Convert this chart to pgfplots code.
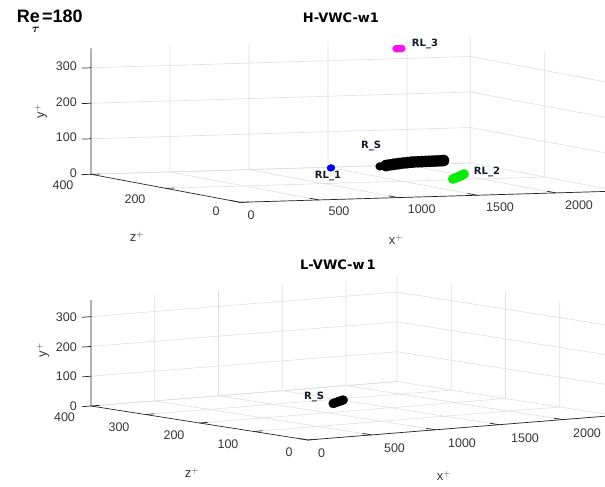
\documentclass[border=0pt]{standalone}
\usepackage{pgfplots}
\pgfplotsset{compat=1.18}
\usepackage{fontspec}
\setmainfont{Liberation Sans}
\newfontfamily\lblfont{DejaVu Sans}

\definecolor{gridc}{RGB}{222,222,222}
\definecolor{axc}{RGB}{38,38,38}
\definecolor{tickc}{RGB}{55,55,55}
\definecolor{labc}{RGB}{20,25,40}
\definecolor{rlblue}{RGB}{0,0,245}
\definecolor{rlgreen}{RGB}{10,235,10}
\definecolor{rlmag}{RGB}{245,20,240}

\pgfplotsset{
  vwc/.style={hide axis, clip=false, anchor=origin,
    xmin=0, xmax=2400, ymin=0, ymax=400, zmin=0, zmax=355},
  blob/.style={only marks, mark=*, color=#1,
    mark options={solid, fill=#1, draw=#1, line width=0.1pt}},
}
\tikzset{
  gl/.style={gridc, line width=0.6pt},
  al/.style={axc, line width=0.7pt},
  tl/.style={tickc, font=\fontsize{12.5}{13}\selectfont, inner sep=0pt},
  ll/.style={tickc, font=\fontsize{13}{14}\selectfont, inner sep=0pt},
  rl/.style={labc, font=\lblfont\bfseries\fontsize{10}{11}\selectfont, inner sep=0pt},
}

\begin{document}
\begin{tikzpicture}

% upper panel: H-VWC-w1
\begin{axis}[vwc, at={(240pt,284.7pt)},
  x={(0.158pt,0.0047pt)}, y={(-0.3725pt,0.07pt)}, z={(0pt,0.355pt)}]
\pgfplotsinvokeforeach{500,1000,1500,2000}{
  \draw[gl] (axis cs:#1,0,0) -- (axis cs:#1,400,0) -- (axis cs:#1,400,355);}
\pgfplotsinvokeforeach{0,200,400}{
  \draw[gl] (axis cs:0,#1,0) -- (axis cs:2400,#1,0) -- (axis cs:2400,#1,355);}
\pgfplotsinvokeforeach{0,100,200,300}{
  \draw[gl] (axis cs:0,400,#1) -- (axis cs:2400,400,#1) -- (axis cs:2400,0,#1);}
\draw[al] (axis cs:0,400,355) -- (axis cs:0,400,0) -- (axis cs:0,0,0) -- (axis cs:2400,0,0);
\pgfplotsinvokeforeach{0,100,200,300}{
  \draw[al] (axis cs:0,400,#1) -- (axis cs:-57,400,#1);}
\pgfplotsinvokeforeach{0,200,400}{
  \draw[al] (axis cs:0,#1,0) -- (axis cs:55,#1,0);}
\pgfplotsinvokeforeach{0,500,1000,1500,2000}{
  \draw[al] (axis cs:#1,0,0) -- (axis cs:#1,25,0);}

% R_S
\addplot3[blob=black, mark size=4pt] coordinates {
  (1600,304,20) (1630,308,20)};
\addplot3[blob=black, mark size=5.7pt] coordinates {
  (1660,312,20) (1695,318,20) (1729,323,20) (1760,328,20) (1790,332,20)
  (1827,337,20) (1860,340,20) (1890,343,20) (1916,346,20) (1945,347,20)
  (1970,347.5,20) (1996,348,20) (2020,348.5,20) (2045,349,20) (2071,350,20)
  (2098,351.5,20) (2120,353,20)};
% RL_1
\addplot3[blob=rlblue, mark size=3.3pt] coordinates {
  (1283,302,20) (1290,303,20) (1297,304,20)};
% RL_2
\addplot3[blob=rlgreen, mark size=4.8pt] coordinates {
  (1635,122,20) (1662,129,20) (1688,136,20) (1714,143,20) (1740,150,20)
  (1765,157,20) (1790,164,20) (1815,172,20) (1840,179,20)};
% RL_3
\addplot3[blob=rlmag, mark size=3.6pt] coordinates {
  (1860,370,335) (1869,370,335) (1878,370,335) (1888,370,335) (1897,370,335)};
\end{axis}

% lower panel: L-VWC-w1
\begin{axis}[vwc, at={(308pt,47pt)},
  x={(0.1275pt,0.0102pt)}, y={(-0.5425pt,0.085pt)}, z={(0pt,0.298pt)}]
\pgfplotsinvokeforeach{500,1000,1500,2000}{
  \draw[gl] (axis cs:#1,0,0) -- (axis cs:#1,400,0) -- (axis cs:#1,400,355);}
\pgfplotsinvokeforeach{0,100,200,300,400}{
  \draw[gl] (axis cs:0,#1,0) -- (axis cs:2400,#1,0) -- (axis cs:2400,#1,355);}
\pgfplotsinvokeforeach{0,100,200,300}{
  \draw[gl] (axis cs:0,400,#1) -- (axis cs:2400,400,#1) -- (axis cs:2400,0,#1);}
\draw[al] (axis cs:0,400,355) -- (axis cs:0,400,0) -- (axis cs:0,0,0) -- (axis cs:2400,0,0);
\pgfplotsinvokeforeach{0,100,200,300}{
  \draw[al] (axis cs:0,400,#1) -- (axis cs:-70,400,#1);}
\pgfplotsinvokeforeach{0,100,200,300,400}{
  \draw[al] (axis cs:0,#1,0) -- (axis cs:70,#1,0);}
\pgfplotsinvokeforeach{0,500,1000,1500,2000}{
  \draw[al] (axis cs:#1,0,0) -- (axis cs:#1,17,0);}

% R_S
\addplot3[blob=black, mark size=4.6pt] coordinates {
  (1142,222,20) (1166,225,20) (1190,228,20) (1214,231,20) (1237,234,20)
  (1255,236,20) (1273,238.5,20) (1292,241,20) (1310,243,20)};
\end{axis}

% upper panel text
\node[anchor=base west, font=\bfseries\fontsize{18}{20}\selectfont] at (13.3pt,464.3pt)
  {Re\kern-8pt\raisebox{-9.5pt}{\fontsize{12}{12}\selectfont\boldmath$\tau$}\kern2.5pt=180};
\node[font=\lblfont\bfseries\fontsize{13}{14}\selectfont] at (341pt,469pt) {H-VWC-w1};
\foreach \v/\yy in {300/420.3,200/384.7,100/349.3,0/313.7}
  \node[tl, anchor=east] at (77pt,\yy pt) {\v};
\foreach \v/\xx/\yy in {400/63/301.5,200/135/288,0/216/275.3}
  \node[tl] at (\xx pt,\yy pt) {\v};
\foreach \v/\xx/\yy in {0/251/272,500/339/275.3,1000/421.7/277.5,1500/500/279.5,2000/579/282}
  \node[tl] at (\xx pt,\yy pt) {\v};
\node[ll] at (137pt,250pt) {z$^+$};
\node[ll] at (396pt,247pt) {x$^+$};
\node[ll, rotate=90] at (41pt,376pt) {y$^+$};
\node[rl] at (371pt,341pt) {R\_S};
\node[rl] at (328pt,311pt) {RL\_1};
\node[rl] at (487pt,315.5pt) {RL\_2};
\node[rl] at (425pt,443.5pt) {RL\_3};

% lower panel text
\node[font=\lblfont\bfseries\fontsize{13}{14}\selectfont] at (338pt,222.5pt) {L-VWC-w\,1};
\foreach \v/\yy in {300/170.3,200/140.3,100/111,0/81}
  \node[tl, anchor=east] at (77pt,\yy pt) {\v};
\foreach \v/\xx/\yy in {400/64.5/70,300/119/60,200/174/52,100/228/43,0/289/35}
  \node[tl] at (\xx pt,\yy pt) {\v};
\foreach \v/\xx/\yy in {0/321.7/34,500/394.5/39,1000/462/44,1500/525/49,2000/587/54}
  \node[tl] at (\xx pt,\yy pt) {\v};
\node[ll] at (192pt,14pt) {z$^+$};
\node[ll] at (444pt,11pt) {x$^+$};
\node[ll, rotate=90] at (43pt,137pt) {y$^+$};
\node[rl] at (314pt,90pt) {R\_S};

\pgfresetboundingbox
\useasboundingbox (0pt,0pt) rectangle (605pt,487pt);
\end{tikzpicture}
\end{document}
